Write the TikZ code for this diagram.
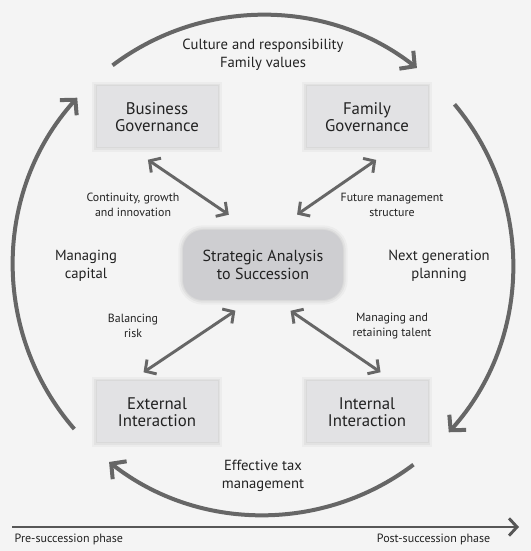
\documentclass[tikz,border=0pt]{standalone}
\usepackage{fontspec}
\setmainfont{PT Sans}
\usepackage{tikz}
\usetikzlibrary{arrows.meta}

\definecolor{paper}{HTML}{F4F4F4}
\definecolor{boxgray}{HTML}{E2E2E4}
\definecolor{hubgray}{HTML}{CECED1}
\definecolor{linegray}{HTML}{666666}
\definecolor{inkgray}{HTML}{222222}

\begin{document}
\begin{tikzpicture}[x=0.75pt, y=0.75pt, text=inkgray,
    softedge/.style={preaction={draw=black, draw opacity=0.03, line width=7pt},
      preaction={draw=black, draw opacity=0.04, line width=4pt},
      preaction={draw=black, draw opacity=0.04, line width=1.5pt}},
    govbox/.style={fill=boxgray, softedge, minimum width=90.75pt, minimum height=45.75pt, align=center,
      font=\fontsize{12.6}{13}\selectfont},
    hubbox/.style={fill=hubgray, softedge, rounded corners=15pt, minimum width=120pt, minimum height=52.5pt, align=center,
      font=\fontsize{12}{13.5}\selectfont},
    biglabel/.style={align=center, font=\fontsize{11}{13.5}\selectfont},
    smalllabel/.style={align=center, font=\fontsize{8.9}{11.2}\selectfont},
    phase/.style={font=\fontsize{9}{11}\selectfont},
    cyclearrow/.style={draw=linegray, line width=3pt, -{Straight Barb[length=8pt, width=17pt]}},
    linkarrow/.style={draw=linegray, line width=2.2pt,
      {Straight Barb[length=6pt, width=13pt]}-{Straight Barb[length=6pt, width=13pt]}}]

      \fill[paper] (0, 0) rectangle (531, 551);
      \useasboundingbox (0, 0) rectangle (531, 551);

      \node[hubbox] (Strat) at (263, 286) {Strategic Analysis\\to Succession};

      \node[govbox] (BizGov) at (157, 434) {Business\\Governance};
      \node[govbox] (FamGov) at (367, 434) {Family\\Governance};
      \node[govbox] (ExtInt) at (157, 139) {External\\Interaction};
      \node[govbox] (IntInt) at (367, 139) {Internal\\Interaction};

      \node[biglabel] (Culture) at (263, 496) {Culture and responsibility\\Family values};
      \node[biglabel] (Capital) at (86, 285) {Managing\\capital};
      \node[biglabel] (NextGen) at (439, 285) {Next generation\\planning};
      \node[biglabel] (Tax) at (263, 75) {Effective tax\\management};

      \node[smalllabel] (Growth) at (133, 346) {Continuity, growth\\and innovation};
      \node[smalllabel] (Future) at (392, 346) {Future management\\structure};
      \node[smalllabel] (Risk) at (133, 225) {Balancing\\risk};
      \node[smalllabel] (Talent) at (392, 225) {Managing and\\retaining talent};

      % outer cycle
      \draw[cyclearrow] (Strat.center) ++(127:250) arc[start angle=127, end angle=52, radius=250];
      \draw[cyclearrow] (Strat.center) ++(40:250) arc[start angle=40, end angle=-42, radius=250];
      \draw[cyclearrow] (Strat.center) ++(-53:250) arc[start angle=-53, end angle=-128, radius=250];
      \draw[cyclearrow] (Strat.center) ++(221:250) arc[start angle=221, end angle=138, radius=250];

      % links to the centre
      \draw[linkarrow, shorten <=16pt, shorten >=20pt] (BizGov.229) -- (Strat.109);
      \draw[linkarrow, shorten <=16pt, shorten >=20pt] (FamGov.311) -- (Strat.71);
      \draw[linkarrow, shorten <=12pt, shorten >=14pt] (ExtInt.131) -- (Strat.251);
      \draw[linkarrow, shorten <=12pt, shorten >=14pt] (IntInt.49) -- (Strat.289);

      % phases
      \coordinate (PhaseStart) at (12, 24);
      \coordinate (PhaseEnd) at (519, 24);
      \draw[draw=linegray!85!black, line width=2.2pt, -{Straight Barb[length=6pt, width=13pt]}] (PhaseStart) -- (PhaseEnd);
      \node[phase, anchor=west] (Pre) at (10, 12) {Pre-succession phase};
      \node[phase, anchor=east] (Post) at (495, 12) {Post-succession phase};
    \end{tikzpicture}
\end{document}
